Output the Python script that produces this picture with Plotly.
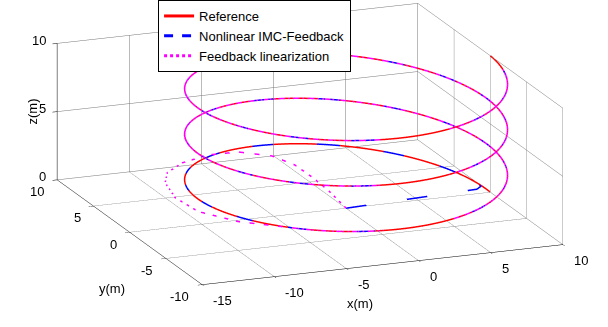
import numpy as np
import plotly.graph_objects as go

# ---- data ----
ref_radius = 10.0      # helix radius (m)
ref_height = 10.0      # final altitude (m)
ref_turns = 3          # number of turns

# Nonlinear IMC-Feedback: transient before joining the reference
imc_x = [0.0, 9.44, 9.88]
imc_y = [0.0, 0.74, 1.05]
imc_z = [0.0, 0.0, 0.05]
imc_join_t = 0.2       # helix parameter where it rejoins the reference

# Feedback linearization: transient loop before joining the reference
fl_x = [0.0, 0.19, 0.09, -0.16, -1.01, -2.94, -5.16, -7.55, -9.45, -10.51, -11.32, -11.20, -9.75]
fl_y = [0.0, 2.86, 4.86, 6.72, 8.19, 9.03, 8.75, 7.58, 5.87, 4.04, 1.05, -1.90, -4.52]
fl_z = [0.0, 0.2, 0.4, 0.6, 0.8, 1.0, 1.15, 1.3, 1.45, 1.55, 1.7, 1.8, 1.9]
fl_join_t = 3.9

x_ticks = [-15, -10, -5, 0, 5, 10]
y_ticks = [-10, -5, 0, 5, 10]
z_ticks = [0, 5, 10]

x_rng = [-15, 10]
y_rng = [-10, 10]
z_rng = [0, 10]

t_end = 2 * np.pi * ref_turns
t_all = np.linspace(0.0, t_end, 1200)


def helix(t0):
    t = t_all[t_all >= t0]
    return ref_radius * np.cos(t), ref_radius * np.sin(t), ref_height * t / t_end


rx, ry, rz = helix(0.0)
hx, hy, hz = helix(imc_join_t)
ix = np.concatenate([imc_x, hx]); iy = np.concatenate([imc_y, hy]); iz = np.concatenate([imc_z, hz])
gx, gy, gz = helix(fl_join_t)
fx = np.concatenate([fl_x, gx]); fy = np.concatenate([fl_y, gy]); fz = np.concatenate([fl_z, gz])

# camera / box geometry
eye_dir = np.array([-0.350, -0.893, 0.2833])
aspect = dict(x=2.69, y=2.76, z=0.988)
eye_len = 2.5

# depth bias: nudging a line along the (orthographic) viewing direction keeps its
# on-screen position but puts it in front, like MATLAB's later-drawn lines
scale = np.array([aspect['x'] / (x_rng[1] - x_rng[0]),
                  aspect['y'] / (y_rng[1] - y_rng[0]),
                  aspect['z'] / (z_rng[1] - z_rng[0])])
bias = eye_dir / scale


def nudged(xs, ys, zs, eps):
    xs, ys, zs = np.asarray(xs, float), np.asarray(ys, float), np.asarray(zs, float)
    return xs + eps * bias[0], ys + eps * bias[1], zs + eps * bias[2]


ixb, iyb, izb = nudged(ix, iy, iz, 0.02)
fxb, fyb, fzb = nudged(fx, fy, fz, 0.04)
# dots of the feedback-linearization path where it runs on the reference
fhx, fhy, fhz = nudged(gx[::2], gy[::2], gz[::2], 0.05)

fig = go.Figure()
fig.add_trace(go.Scatter3d(x=rx, y=ry, z=rz, mode='lines', name='Reference',
                           line=dict(color='#ff0000', width=3)))
fig.add_trace(go.Scatter3d(x=ixb, y=iyb, z=izb, mode='lines', name='Nonlinear IMC-Feedback',
                           line=dict(color='#0000ff', width=3, dash='dash')))
fig.add_trace(go.Scatter3d(x=fxb, y=fyb, z=fzb, mode='lines', name='Feedback linearization',
                           line=dict(color='#ff00ff', width=3, dash='dot')))
fig.add_trace(go.Scatter3d(x=fhx, y=fhy, z=fhz, mode='markers', name='Feedback linearization',
                           showlegend=False,
                           marker=dict(color='#ff00ff', size=1.0, symbol='circle',
                                       line=dict(width=0))))

font = dict(family='Liberation Sans, Arial, sans-serif', size=13, color='black')


def ax(rng, ticks):
    return dict(title=dict(text=''), range=rng, tickvals=ticks,
                showticklabels=False,
                showgrid=True, gridcolor='#767676', gridwidth=1,
                showline=True, linecolor='black', linewidth=1,
                zeroline=False, showbackground=False, showspikes=False,
                ticks='outside', tickcolor='black', ticklen=5, autorange=False)


# tick labels anchored at the 3-D tick positions
scene_ann = []
for v in x_ticks:
    scene_ann.append(dict(x=v, y=y_rng[0], z=z_rng[0], text=str(v), showarrow=False,
                          xanchor='left', yanchor='middle', xshift=9, yshift=-16, font=font))
for v in y_ticks:
    scene_ann.append(dict(x=x_rng[0], y=v, z=z_rng[0], text=str(v), showarrow=False,
                          xanchor='right', yanchor='middle', xshift=-11, yshift=-12, font=font))
for v in z_ticks:
    scene_ann.append(dict(x=x_rng[0], y=y_rng[1], z=v, text=str(v), showarrow=False,
                          xanchor='right', yanchor='middle', xshift=-9, yshift=3, font=font))

fig.update_layout(
    width=608, height=327,
    margin=dict(l=0, r=0, t=0, b=0),
    paper_bgcolor='white',
    font=font,
    showlegend=True,
    legend=dict(x=0.26, y=1.0, xanchor='left', yanchor='top', bgcolor='white',
                bordercolor='black', borderwidth=1, itemwidth=30,
                font=dict(family=font['family'], size=13, color='black'),
                tracegroupgap=0),
    scene=dict(
        domain=dict(x=[0.02, 1.0], y=[0.12, 1.0]),
        xaxis=ax(x_rng, x_ticks),
        yaxis=ax(y_rng, y_ticks),
        zaxis=ax(z_rng, z_ticks),
        aspectmode='manual',
        aspectratio=aspect,
        camera=dict(projection=dict(type='orthographic'),
                    eye=dict(x=eye_dir[0] * eye_len, y=eye_dir[1] * eye_len, z=eye_dir[2] * eye_len),
                    up=dict(x=0, y=0, z=1), center=dict(x=0, y=0, z=0)),
        annotations=scene_ann,
    ),
    annotations=[
        dict(text='x(m)', x=360 / 608, y=1 - 313 / 327, xref='paper', yref='paper',
             showarrow=False, font=font),
        dict(text='y(m)', x=97 / 608, y=1 - 298 / 327, xref='paper', yref='paper',
             showarrow=False, font=font),
        dict(text='z(m)', x=22 / 608, y=1 - 112 / 327, xref='paper', yref='paper',
             showarrow=False, font=font, textangle=-90),
    ],
)

fig.write_html('out.html')
